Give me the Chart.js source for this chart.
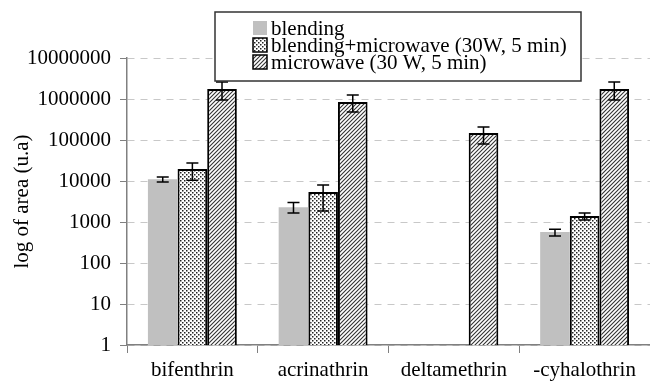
<!DOCTYPE html>
<html lang="en">
<head>
  <meta charset="UTF-8">
  <title>log of area</title>
  <script src="https://cdn.jsdelivr.net/npm/chart.js"></script>
  <style>
    html, body { margin: 0; padding: 0; background: #fff; }
    #wrap { width: 650px; height: 386px; }
  </style>
</head>
<body>
  <div id="wrap"><canvas id="grafico" width="650" height="386"></canvas></div>

  <script>
    const categorias = ['bifenthrin', 'acrinathrin', 'deltamethrin', '-cyhalothrin'];
    const nombres = ['blending', 'blending+microwave (30W, 5 min)', 'microwave (30 W, 5 min)'];

    const blending = [11000, 2300, null, 570];
    const blendingBajo = [9500, 1650, null, 455];
    const blendingAlto = [12500, 3000, null, 670];

    const mixto = [19600, 5400, null, 1400];
    const mixtoBajo = [10500, 1850, null, 1120];
    const mixtoAlto = [27500, 8000, null, 1650];

    const microondas = [1750000, 845000, 148000, 1750000];
    const microondasBajo = [950000, 480000, 80000, 950000];
    const microondasAlto = [2600000, 1250000, 207000, 2600000];

    const ticksY = [1, 10, 100, 1000, 10000, 100000, 1000000, 10000000];

    const fuente = "'Liberation Serif', 'Times New Roman', serif";
    const tam = 21;

    // patrones de relleno
    function patronPuntos() {
      let c = document.createElement('canvas');
      c.width = 4; c.height = 4;
      let x = c.getContext('2d');
      x.fillStyle = '#ffffff';
      x.fillRect(0, 0, 4, 4);
      x.fillStyle = '#222222';
      x.fillRect(0, 0, 1.5, 1.5);
      x.fillRect(2, 2, 1.5, 1.5);
      return x.createPattern(c, 'repeat');
    }

    function patronRayas() {
      let c = document.createElement('canvas');
      c.width = 4; c.height = 4;
      let x = c.getContext('2d');
      x.fillStyle = '#ffffff';
      x.fillRect(0, 0, 4, 4);
      x.strokeStyle = '#333333';
      x.lineWidth = 1.1;
      x.beginPath();
      x.moveTo(-1, 5); x.lineTo(5, -1);
      x.moveTo(-1, 1); x.lineTo(1, -1);
      x.moveTo(3, 5); x.lineTo(5, 3);
      x.stroke();
      return x.createPattern(c, 'repeat');
    }

    const rellenoPuntos = patronPuntos();
    const rellenoRayas = patronRayas();

    const errores = [
      [blendingBajo, blendingAlto],
      [mixtoBajo, mixtoAlto],
      [microondasBajo, microondasAlto]
    ];

    const pluginErrores = {
      id: 'errores',
      afterDatasetsDraw(chart) {
        let ctx = chart.ctx;
        let y = chart.scales.y;
        ctx.save();
        ctx.strokeStyle = '#000';
        ctx.lineWidth = 1.5;
        errores.forEach((par, d) => {
          let meta = chart.getDatasetMeta(d);
          meta.data.forEach((bar, i) => {
            if (par[0][i] == null) return;
            let x = bar.x;
            let y1 = y.getPixelForValue(par[0][i]);
            let y2 = y.getPixelForValue(par[1][i]);
            ctx.beginPath();
            ctx.moveTo(x, y1); ctx.lineTo(x, y2);
            ctx.moveTo(x - 6, y1); ctx.lineTo(x + 6, y1);
            ctx.moveTo(x - 6, y2); ctx.lineTo(x + 6, y2);
            ctx.stroke();
          });
        });
        ctx.restore();
      }
    };

    const pluginLeyenda = {
      id: 'leyendaCaja',
      afterDraw(chart) {
        let ctx = chart.ctx;
        ctx.save();
        ctx.fillStyle = '#fff';
        ctx.fillRect(215, 12, 366, 69);
        ctx.strokeStyle = '#333';
        ctx.lineWidth = 1.5;
        ctx.strokeRect(215, 12, 366, 69);
        let filas = [28, 45, 62];
        let rellenos = ['#c0c0c0', rellenoPuntos, rellenoRayas];
        ctx.font = tam + 'px ' + fuente;
        ctx.textBaseline = 'middle';
        filas.forEach((fy, i) => {
          ctx.fillStyle = rellenos[i];
          ctx.fillRect(253, fy - 7, 14, 14);
          if (i > 0) {
            ctx.strokeStyle = '#000';
            ctx.lineWidth = 1.5;
            ctx.strokeRect(253, fy - 7, 14, 14);
          }
          ctx.fillStyle = '#000';
          ctx.fillText(nombres[i], 271, fy + 1);
        });
        ctx.restore();
      }
    };

    const pluginFondo = {
      id: 'fondo',
      beforeDraw(chart) {
        let ctx = chart.ctx;
        ctx.save();
        ctx.fillStyle = '#fff';
        ctx.fillRect(0, 0, chart.width, chart.height);
        ctx.restore();
      }
    };

    new Chart(document.getElementById('grafico').getContext('2d'), {
      type: 'bar',
      data: {
        labels: categorias,
        datasets: [
          { label: nombres[0], data: blending, backgroundColor: '#c0c0c0', borderWidth: 0 },
          { label: nombres[1], data: mixto, backgroundColor: rellenoPuntos, borderColor: '#000', borderWidth: 2 },
          { label: nombres[2], data: microondas, backgroundColor: rellenoRayas, borderColor: '#000', borderWidth: 2 }
        ]
      },
      options: {
        responsive: false,
        animation: false,
        layout: { padding: { top: 58, right: 0, left: 0, bottom: 0 } },
        datasets: { bar: { categoryPercentage: 0.68, barPercentage: 1.0 } },
        plugins: {
          legend: { display: false },
          tooltip: { enabled: false }
        },
        scales: {
          x: {
            grid: { drawOnChartArea: false, drawTicks: true, tickLength: 8, offset: true, color: '#808080' },
            border: { color: '#808080', width: 1.5 },
            ticks: { color: '#000', font: { family: fuente, size: tam }, padding: 5 },
            afterFit(s) { s.height = 41; }
          },
          y: {
            type: 'logarithmic',
            min: 1,
            max: 10000000,
            afterBuildTicks(s) { s.ticks = ticksY.map(v => ({ value: v })); },
            grid: {
              color: '#c8c8c8',
              tickColor: '#808080',
              tickLength: 7,
              lineWidth: 1
            },
            border: { color: '#808080', width: 1.5, dash: [7, 6] },
            ticks: {
              color: '#000',
              font: { family: fuente, size: tam },
              padding: 9,
              callback: v => String(v)
            },
            title: {
              display: true,
              text: 'log of area (u.a)',
              color: '#000',
              font: { family: fuente, size: tam },
              padding: { top: 10, bottom: 0 }
            },
            afterFit(s) { s.width = 127; }
          }
        }
      },
      plugins: [pluginFondo, pluginErrores, pluginLeyenda]
    });
  </script>
</body>
</html>
